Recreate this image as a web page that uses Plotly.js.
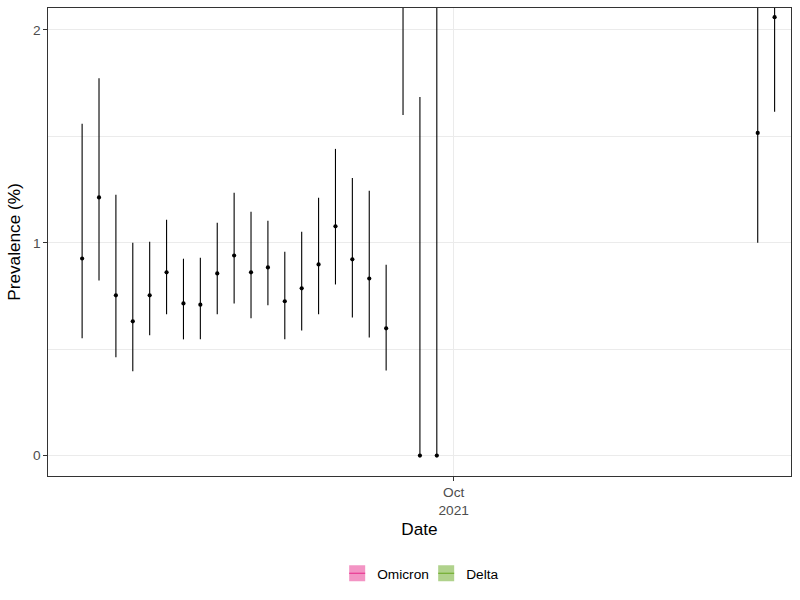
<!DOCTYPE html>
<html>
<head>
<meta charset="utf-8">
<script src="https://cdn.plot.ly/plotly-3.0.1.min.js"></script>
<style>
  html, body { margin: 0; padding: 0; background: #ffffff; }
  #chart { width: 800px; height: 600px; }
</style>
</head>
<body>
<div id="chart"></div>
<script>
// ---- data ----
var dates = [
  '2021-09-09','2021-09-10','2021-09-11','2021-09-12','2021-09-13','2021-09-14',
  '2021-09-15','2021-09-16','2021-09-17','2021-09-18','2021-09-19','2021-09-20',
  '2021-09-21','2021-09-22','2021-09-23','2021-09-24','2021-09-25','2021-09-26',
  '2021-09-27','2021-09-28','2021-09-29','2021-09-30','2021-10-19','2021-10-20'
];
var prevalence = [
  0.926, 1.213, 0.753, 0.631, 0.753, 0.861,
  0.715, 0.709, 0.856, 0.940, 0.861, 0.884,
  0.725, 0.786, 0.898, 1.077, 0.922, 0.832,
  0.598, 2.60, 0.000, 0.000, 1.516, 2.060
];
var lower = [
  0.551, 0.823, 0.462, 0.396, 0.565, 0.664,
  0.546, 0.546, 0.664, 0.715, 0.645, 0.706,
  0.546, 0.588, 0.664, 0.804, 0.649, 0.555,
  0.400, 1.600, 0.000, 0.000, 1.000, 1.615
];
var upper = [
  1.559, 1.773, 1.225, 1.000, 1.005, 1.108,
  0.925, 0.930, 1.094, 1.235, 1.146, 1.103,
  0.958, 1.052, 1.211, 1.441, 1.304, 1.244,
  0.897, 3.900, 1.685, 3.200, 2.300, 2.700
];
var variants = ['Omicron', 'Delta'];
var variantFill = ['#F394C4', '#B0D28C'];
var variantLine = ['#E7298A', '#66A61E'];
var xTickVals = ['2021-10-01'];
var xTickText = ['Oct<br>2021'];
var yTickVals = [0, 1, 2];
var yTickText = ['0', '1', '2'];
var yMinorVals = [0.5, 1.5];

// ---- traces ----
var errPlus = upper.map(function (u, i) { return u - prevalence[i]; });
var errMinus = lower.map(function (l, i) { return prevalence[i] - l; });

var traces = [{
  type: 'scatter',
  mode: 'markers',
  x: dates,
  y: prevalence,
  showlegend: false,
  hoverinfo: 'x+y',
  marker: { color: '#000000', size: 4.2 },
  error_y: {
    type: 'data', symmetric: false,
    array: errPlus, arrayminus: errMinus,
    color: '#000000', thickness: 1.1, width: 0
  }
}];

variants.forEach(function (v, i) {
  traces.push({
    type: 'scatter',
    mode: 'markers',
    x: [null], y: [null],
    name: v,
    showlegend: true,
    hoverinfo: 'skip',
    marker: { symbol: 'square', size: 18, color: variantFill[i] }
  });
});

var font = 'Liberation Sans, Arial, sans-serif';

var layout = {
  width: 800, height: 600,
  paper_bgcolor: '#ffffff', plot_bgcolor: '#ffffff',
  font: { family: font, color: '#000000' },
  margin: { l: 48, r: 9, t: 8, b: 124, pad: 0 },
  showlegend: true,
  legend: {
    orientation: 'h', x: 0.509, xanchor: 'center',
    y: -0.208, yanchor: 'middle',
    font: { family: font, size: 13.7, color: '#000000' },
    itemwidth: 30, entrywidth: 44, bgcolor: 'rgba(0,0,0,0)'
  },
  xaxis: {
    type: 'date',
    range: ['2021-09-06 23:31', '2021-10-20 23:17'],
    tickmode: 'array', tickvals: xTickVals, ticktext: xTickText,
    showgrid: true, gridcolor: '#EBEBEB', gridwidth: 1.1,
    zeroline: false,
    showline: true, mirror: true, linecolor: '#333333', linewidth: 1.1,
    ticks: 'outside', ticklen: 3.5, tickwidth: 1.1, tickcolor: '#333333',
    tickfont: { family: font, size: 13.7, color: '#4D4D4D' },
    title: { text: 'Date', font: { family: font, size: 17.2, color: '#000000' }, standoff: 6 },
    automargin: false
  },
  yaxis: {
    range: [-0.096, 2.103],
    tickmode: 'array', tickvals: yTickVals, ticktext: yTickText,
    showgrid: true, gridcolor: '#EBEBEB', gridwidth: 1.1,
    minor: { tickmode: 'array', tickvals: yMinorVals, showgrid: true, gridcolor: '#EBEBEB', gridwidth: 0.55, ticks: '' },
    zeroline: false,
    showline: true, mirror: true, linecolor: '#333333', linewidth: 1.1,
    ticks: 'outside', ticklen: 3.5, tickwidth: 1.1, tickcolor: '#333333',
    tickfont: { family: font, size: 13.7, color: '#4D4D4D' },
    title: { text: 'Prevalence (%)', font: { family: font, size: 17.2, color: '#000000' }, standoff: 8 },
    automargin: false
  }
};

Plotly.newPlot('chart', traces, layout, { displayModeBar: false }).then(function (gd) {
  // draw the thin line through each legend key, as in the ggplot key
  var items = gd.querySelectorAll('.legend .traces');
  items.forEach(function (item) {
    var label = item.querySelector('.legendtext');
    var idx = label ? variants.indexOf(label.textContent) : -1;
    var pts = item.querySelector('.legendpoints');
    if (idx < 0 || !pts) return;
    var p = document.createElementNS('http://www.w3.org/2000/svg', 'path');
    p.setAttribute('d', 'M12,0H28');
    p.setAttribute('style', 'stroke:' + variantLine[idx] + ';stroke-width:1;fill:none');
    pts.appendChild(p);
  });
});
</script>
</body>
</html>
